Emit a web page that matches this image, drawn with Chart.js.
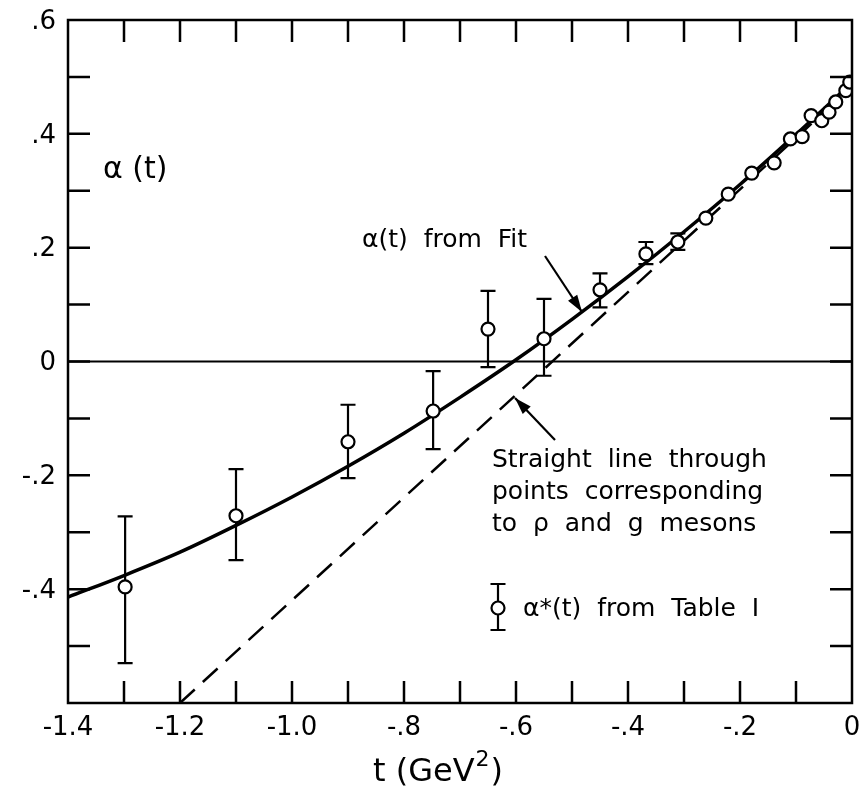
<!DOCTYPE html>
<html>
<head>
<meta charset="utf-8">
<script src="https://cdn.jsdelivr.net/npm/chart.js@4.4.1/dist/chart.umd.min.js"></script>
<style>
html,body{margin:0;padding:0;background:#fff;}
#wrap{width:861px;height:792px;}
</style>
</head>
<body>
<div id="wrap"><canvas id="c" width="861" height="792"></canvas></div>
<script>
// ---- data ----
const pointT     = [-1.298, -1.100, -0.900, -0.748, -0.650, -0.550, -0.450, -0.368, -0.311, -0.261, -0.221, -0.179, -0.139, -0.110, -0.089, -0.073, -0.054, -0.041, -0.029, -0.011, -0.004];
const pointAlpha = [-0.396, -0.271, -0.141, -0.087, 0.057, 0.040, 0.126, 0.189, 0.210, 0.252, 0.294, 0.331, 0.349, 0.391, 0.395, 0.432, 0.423, 0.438, 0.456, 0.476, 0.491];
const errHigh    = [-0.272, -0.189, -0.076, -0.017, 0.124, 0.110, 0.155, 0.210, 0.225, null, null, null, null, null, null, null, null, null, null, null, null];
const errLow     = [-0.530, -0.349, -0.205, -0.154, -0.010, -0.025, 0.095, 0.171, 0.196, null, null, null, null, null, null, null, null, null, null, null, null];

const fitT     = [-1.4, -1.3, -1.2, -1.1, -1.0, -0.9, -0.8, -0.7, -0.6, -0.5, -0.4, -0.3, -0.2, -0.1, 0.0];
const fitAlpha = [-0.414, -0.376, -0.335, -0.288, -0.238, -0.184, -0.126, -0.063, 0.003, 0.074, 0.149, 0.228, 0.311, 0.399, 0.490];

const lineT     = [-1.2, 0.0];
const lineAlpha = [-0.6, 0.483];

const zeroT     = [-1.4, 0.0];
const zeroAlpha = [0, 0];

const xTickValues = [-1.4, -1.2, -1.0, -0.8, -0.6, -0.4, -0.2, 0];
const xTickLabels = ["-1.4", "-1.2", "-1.0", "-.8", "-.6", "-.4", "-.2", "0"];
const yTickValues = [0.6, 0.4, 0.2, 0, -0.2, -0.4];
const yTickLabels = [".6", ".4", ".2", "0", "-.2", "-.4"];

const FONT = "'DejaVu Sans', sans-serif";

function pts(xs, ys){ return xs.map((x,i)=>({x:x, y:ys[i]})); }

const decor = {
  id: 'decor',
  beforeDatasetsDraw(chart){
    const ctx = chart.ctx, xs = chart.scales.x, ys = chart.scales.y;
    ctx.save();
    ctx.strokeStyle = '#000';
    ctx.lineWidth = 2.2;
    for (let i = 0; i < pointT.length; i++){
      if (errHigh[i] === null) continue;
      const x = xs.getPixelForValue(pointT[i]);
      const y1 = ys.getPixelForValue(errHigh[i]);
      const y2 = ys.getPixelForValue(errLow[i]);
      ctx.beginPath();
      ctx.moveTo(x, y1); ctx.lineTo(x, y2);
      ctx.moveTo(x-7.5, y1); ctx.lineTo(x+7.5, y1);
      ctx.moveTo(x-7.5, y2); ctx.lineTo(x+7.5, y2);
      ctx.stroke();
    }
    ctx.restore();
  },
  afterDraw(chart){
    const ctx = chart.ctx, xs = chart.scales.x, ys = chart.scales.y;
    const a = chart.chartArea;
    ctx.save();
    ctx.strokeStyle = '#000';
    ctx.fillStyle = '#000';
    // frame
    ctx.lineWidth = 2.5;
    ctx.strokeRect(a.left, a.top, a.right - a.left, a.bottom - a.top);
    // inward ticks
    const TL = 22;
    ctx.beginPath();
    for (let i = 1; i < 14; i++){
      const x = xs.getPixelForValue(-1.4 + i*0.1);
      ctx.moveTo(x, a.bottom); ctx.lineTo(x, a.bottom - TL);
      ctx.moveTo(x, a.top); ctx.lineTo(x, a.top + TL);
    }
    for (let i = 1; i < 12; i++){
      const y = ys.getPixelForValue(-0.6 + i*0.1);
      ctx.moveTo(a.left, y); ctx.lineTo(a.left + TL, y);
      ctx.moveTo(a.right, y); ctx.lineTo(a.right - TL, y);
    }
    ctx.stroke();

    // tick labels
    ctx.font = '26px ' + FONT;
    ctx.textBaseline = 'middle';
    ctx.textAlign = 'center';
    xTickValues.forEach((v, i) => {
      ctx.fillText(xTickLabels[i], xs.getPixelForValue(v), a.bottom + 25);
    });
    ctx.textAlign = 'right';
    yTickValues.forEach((v, i) => {
      ctx.fillText(yTickLabels[i], a.left - 12, ys.getPixelForValue(v) + 2);
    });

    // texts
    ctx.textAlign = 'left';
    ctx.font = '30px ' + FONT;
    ctx.fillText('α (t)', 103, 170);
    ctx.font = '25px ' + FONT;
    ctx.fillText('α(t)  from  Fit', 362, 240);
    ctx.fillText('Straight  line  through', 492, 460);
    ctx.fillText('points  corresponding', 492, 492);
    ctx.fillText('to  ρ  and  g  mesons', 492, 524);
    ctx.fillText('α*(t)  from  Table  I', 523, 609);

    // axis title
    ctx.font = '32px ' + FONT;
    const t1 = 't (GeV';
    const w1 = ctx.measureText(t1).width;
    ctx.font = '22px ' + FONT;
    const w2 = ctx.measureText('2').width;
    ctx.font = '32px ' + FONT;
    const w3 = ctx.measureText(')').width;
    const tx = 437 - (w1 + w2 + w3)/2;
    ctx.fillText(t1, tx, 773);
    ctx.font = '22px ' + FONT;
    ctx.fillText('2', tx + w1 + 1, 760);
    ctx.font = '32px ' + FONT;
    ctx.fillText(')', tx + w1 + w2 + 2, 773);

    // legend marker
    ctx.lineWidth = 2.2;
    ctx.beginPath();
    ctx.moveTo(498, 584); ctx.lineTo(498, 630);
    ctx.moveTo(490.5, 584); ctx.lineTo(505.5, 584);
    ctx.moveTo(490.5, 630); ctx.lineTo(505.5, 630);
    ctx.stroke();
    ctx.beginPath();
    ctx.fillStyle = '#fff';
    ctx.arc(498, 608, 6.5, 0, Math.PI*2);
    ctx.fill();
    ctx.stroke();
    ctx.fillStyle = '#000';

    // arrows
    function arrow(x1, y1, x2, y2){
      ctx.lineWidth = 2.2;
      ctx.beginPath();
      ctx.moveTo(x1, y1); ctx.lineTo(x2, y2);
      ctx.stroke();
      const ang = Math.atan2(y2 - y1, x2 - x1);
      const L = 17, W = 5.5;
      ctx.beginPath();
      ctx.moveTo(x2, y2);
      ctx.lineTo(x2 - L*Math.cos(ang) + W*Math.sin(ang), y2 - L*Math.sin(ang) - W*Math.cos(ang));
      ctx.lineTo(x2 - L*Math.cos(ang) - W*Math.sin(ang), y2 - L*Math.sin(ang) + W*Math.cos(ang));
      ctx.closePath();
      ctx.fill();
    }
    arrow(545, 256, 582, 312);
    arrow(555, 440, 515, 398);
    ctx.restore();
  }
};

new Chart(document.getElementById('c'), {
  type: 'scatter',
  data: {
    datasets: [
      {
        label: 'alpha* from Table I',
        data: pts(pointT, pointAlpha),
        pointRadius: 6.5,
        pointBorderWidth: 2.2,
        pointBackgroundColor: '#fff',
        pointBorderColor: '#000',
        showLine: false
      },
      {
        label: 'fit',
        data: pts(fitT, fitAlpha),
        showLine: true,
        borderColor: '#000',
        borderWidth: 3.5,
        pointRadius: 0,
        cubicInterpolationMode: 'monotone',
        fill: false
      },
      {
        label: 'straight line',
        data: pts(lineT, lineAlpha),
        showLine: true,
        borderColor: '#000',
        borderWidth: 2.5,
        borderDash: [20, 11],
        pointRadius: 0,
        fill: false
      },
      {
        label: 'zero',
        data: pts(zeroT, zeroAlpha),
        showLine: true,
        borderColor: '#000',
        borderWidth: 2.2,
        pointRadius: 0,
        fill: false
      }
    ]
  },
  options: {
    responsive: false,
    animation: false,
    devicePixelRatio: 1,
    layout: { padding: { top: 20, right: 9, left: 0, bottom: 0 } },
    plugins: { legend: { display: false }, tooltip: { enabled: false } },
    scales: {
      x: {
        type: 'linear', min: -1.4, max: 0, position: 'bottom',
        grid: { display: false, drawTicks: false },
        border: { display: false },
        ticks: { display: false },
        afterFit(s){ s.height = 89; }
      },
      y: {
        type: 'linear', min: -0.6, max: 0.6,
        grid: { display: false, drawTicks: false },
        border: { display: false },
        ticks: { display: false },
        afterFit(s){ s.width = 68; }
      }
    }
  },
  plugins: [decor]
});
</script>
</body>
</html>
